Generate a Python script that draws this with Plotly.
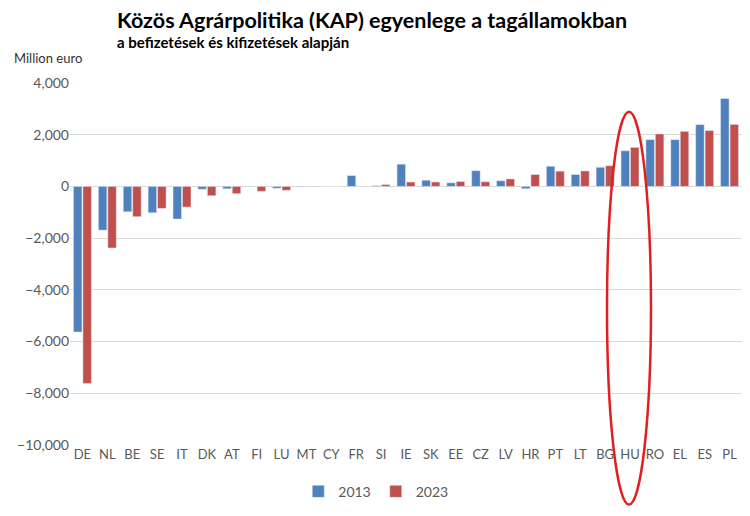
import plotly.graph_objects as go

countries = ["DE","NL","BE","SE","IT","DK","AT","FI","LU","MT","CY","FR","SI","IE","SK","EE","CZ","LV","HR","PT","LT","BG","HU","RO","EL","ES","PL"]
v2013 = [-5630,-1690,-980,-1020,-1260,-110,-90,10,-70,-20,0,420,30,860,240,140,610,220,-90,780,460,740,1380,1810,1810,2390,3400]
v2023 = [-7620,-2380,-1170,-850,-800,-360,-280,-190,-150,-10,0,-10,70,170,170,190,180,290,460,590,600,800,1510,2030,2130,2160,2400]

title = "Közös Agrárpolitika (KAP) egyenlege a tagállamokban"
subtitle = "a befizetések és kifizetések alapján"
unit = "Million euro"

fig = go.Figure()
fig.add_trace(go.Bar(x=countries, y=v2013, name="2013", marker_color="#4F81BD"))
fig.add_trace(go.Bar(x=countries, y=v2023, name="2023", marker_color="#C0504D"))

fig.update_layout(
    width=750, height=516,
    margin=dict(l=70, r=8, t=83, b=68),
    plot_bgcolor="white", paper_bgcolor="white",
    barmode="group", bargap=0.24, bargroupgap=0.1,
    font=dict(family="Lato, Open Sans, sans-serif", color="#595959", size=13),
    showlegend=True,
    legend=dict(orientation="h", x=0.455, xanchor="center", y=-0.085, yanchor="top",
                font=dict(size=14, color="#595959"), itemwidth=30, traceorder="normal"),
    xaxis=dict(showgrid=False, showline=False, ticks="", tickfont=dict(size=13, color="#595959")),
    yaxis=dict(range=[-10000, 4000], dtick=2000, tickformat=",", gridcolor="#D9D9D9",
               zeroline=True, zerolinecolor="#D9D9D9", zerolinewidth=1,
               showline=False, ticks="", tickfont=dict(size=14, color="#595959")),
)

fig.add_annotation(text="<b>" + title + "</b>", xref="paper", yref="paper",
                   x=(115-70)/672, y=(448-19)/365, xanchor="left", yanchor="middle",
                   showarrow=False, font=dict(size=21.5, color="#000000", family="Lato, Open Sans, sans-serif"))
fig.add_annotation(text="<b>" + subtitle + "</b>", xref="paper", yref="paper",
                   x=(115-70)/672, y=(448-42)/365, xanchor="left", yanchor="middle",
                   showarrow=False, font=dict(size=15, color="#000000", family="Lato, Open Sans, sans-serif"))
fig.add_annotation(text=unit, xref="paper", yref="paper",
                   x=(12-70)/672, y=(448-58)/365, xanchor="left", yanchor="middle",
                   showarrow=False, font=dict(size=13, color="#333333", family="Lato, Open Sans, sans-serif"))

fig.add_shape(type="circle", xref="paper", yref="paper",
              x0=(607-70)/672, x1=(651-70)/672, y0=(448-508)/365, y1=(448-112)/365,
              line=dict(color="#E0201F", width=2.5))

fig.write_html("out.html")
